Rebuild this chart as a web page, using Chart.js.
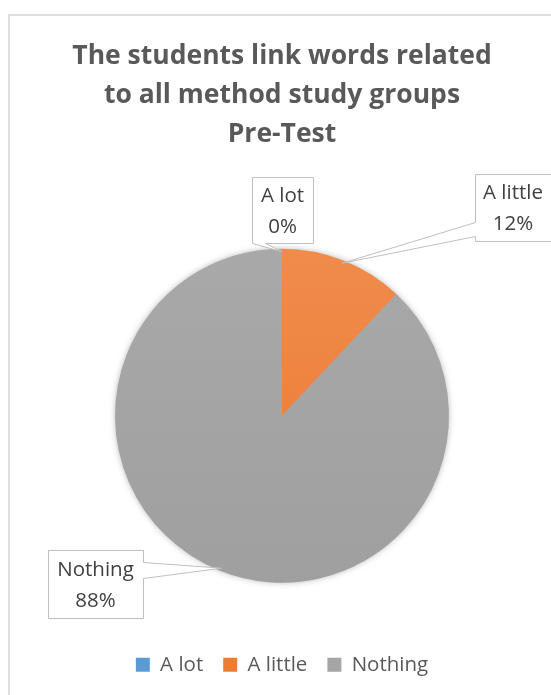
<!DOCTYPE html>
<html>
<head>
<meta charset="utf-8">
<script src="https://cdn.jsdelivr.net/npm/chart.js@4"></script>
<style>
  html, body { margin: 0; padding: 0; background: #fff; }
  #wrap { position: relative; width: 551px; height: 695px; overflow: hidden; }
  #frame { position: absolute; left: 8px; top: 14px; width: 600px; height: 720px;
           border: 2px solid #dedede; box-sizing: border-box; }
  canvas { position: absolute; left: 0; top: 0; }
</style>
</head>
<body>
<div id="wrap">
  <div id="frame"></div>
  <canvas id="pie" width="551" height="695"></canvas>
</div>
<script>
const titleLines = ['The students link words related', 'to all method study groups', 'Pre-Test'];
const categories = ['A lot', 'A little', 'Nothing'];
const percents = [0, 12, 88];
const sliceColors = ['#5B9BD5', '#ED7D31', '#A5A5A5'];
// light top / darker bottom, office-style shading
const sliceShades = [['#6aa6dc', '#4a8cc8'], ['#f28e50', '#e8772c'], ['#aaaaaa', '#9e9e9e']];

// callout boxes: [x, y, w, h], and which side the pointer leaves from (offsets along that side)
const callouts = [
  { box: [252, 177, 61, 66], base: ['bottom', 0, 13] },
  { box: [475, 174, 76, 67], base: ['left', 48, 62] },
  { box: [48, 550, 95, 68], base: ['right', 12, 28] },
];

const FONT = "'Open Sans', sans-serif";

function sliceFill(ctx) {
  const area = ctx.chart.chartArea;
  const i = ctx.dataIndex;
  if (!area) return sliceColors[i];
  const g = ctx.chart.ctx.createLinearGradient(0, area.top, 0, area.bottom);
  g.addColorStop(0, sliceShades[i][0]);
  g.addColorStop(1, sliceShades[i][1]);
  return g;
}

const pieShadow = {
  id: 'pieShadow',
  beforeDatasetsDraw(chart) {
    const arc = chart.getDatasetMeta(0).data[0];
    if (!arc) return;
    const c = chart.ctx;
    c.save();
    c.shadowColor = 'rgba(0,0,0,0.35)';
    c.shadowBlur = 7;
    c.fillStyle = '#a5a5a5';
    c.beginPath();
    c.arc(arc.x, arc.y, arc.outerRadius - 1, 0, Math.PI * 2);
    c.fill();
    c.restore();
  }
};

function calloutPath(c, co, ax, ay) {
  const [x0, y0, w, h] = co.box;
  const x = x0 + 0.5, y = y0 + 0.5;
  const [side, a, b] = co.base;
  c.beginPath();
  c.moveTo(x, y);
  if (side === 'top') { c.lineTo(x + a, y); c.lineTo(ax, ay); c.lineTo(x + b, y); }
  c.lineTo(x + w, y);
  if (side === 'right') { c.lineTo(x + w, y + a); c.lineTo(ax, ay); c.lineTo(x + w, y + b); }
  c.lineTo(x + w, y + h);
  if (side === 'bottom') { c.lineTo(x + b, y + h); c.lineTo(ax, ay); c.lineTo(x + a, y + h); }
  c.lineTo(x, y + h);
  if (side === 'left') { c.lineTo(x, y + b); c.lineTo(ax, ay); c.lineTo(x, y + a); }
  c.closePath();
}

const calloutLabels = {
  id: 'calloutLabels',
  afterDatasetsDraw(chart) {
    const c = chart.ctx;
    const arcs = chart.getDatasetMeta(0).data;
    arcs.forEach((arc, i) => {
      const co = callouts[i];
      const mid = (arc.startAngle + arc.endAngle) / 2;
      const r = arc.outerRadius - 3;
      const ax = arc.x + Math.cos(mid) * r;
      const ay = arc.y + Math.sin(mid) * r;
      c.save();
      calloutPath(c, co, ax, ay);
      c.fillStyle = '#ffffff';
      c.fill();
      c.strokeStyle = '#bfbfbf';
      c.lineWidth = 1;
      c.stroke();
      const [x, y, w, h] = co.box;
      c.fillStyle = '#404040';
      c.font = '20.5px ' + FONT;
      c.textAlign = 'center';
      c.textBaseline = 'middle';
      c.fillText(categories[i], x + w / 2, y + h / 2 - 14);
      c.fillText(percents[i] + '%', x + w / 2, y + h / 2 + 17);
      c.restore();
    });
  }
};

new Chart(document.getElementById('pie'), {
  type: 'pie',
  data: {
    labels: categories,
    datasets: [{
      data: percents,
      backgroundColor: sliceFill,
      borderWidth: 0,
      radius: 167
    }]
  },
  options: {
    responsive: false,
    animation: false,
    devicePixelRatio: 1,
    layout: { padding: { left: 13, right: 0, top: 0, bottom: 10 } },
    plugins: {
      title: {
        display: true,
        text: titleLines,
        color: '#595959',
        font: { family: FONT, size: 26.5, weight: 'bold', lineHeight: 1.47 },
        padding: { top: 37, bottom: 43 }
      },
      legend: {
        position: 'bottom',
        labels: {
          color: '#595959',
          font: { family: FONT, size: 20.5 },
          boxWidth: 14,
          boxHeight: 14,
          padding: 20,
          generateLabels: chart =>
            Chart.overrides.pie.plugins.legend.labels.generateLabels(chart).map((item, i) => ({
              ...item, fillStyle: sliceColors[i], strokeStyle: sliceColors[i], lineWidth: 0
            }))
        }
      },
      tooltip: { enabled: false }
    }
  },
  plugins: [pieShadow, calloutLabels]
});
</script>
</body>
</html>
